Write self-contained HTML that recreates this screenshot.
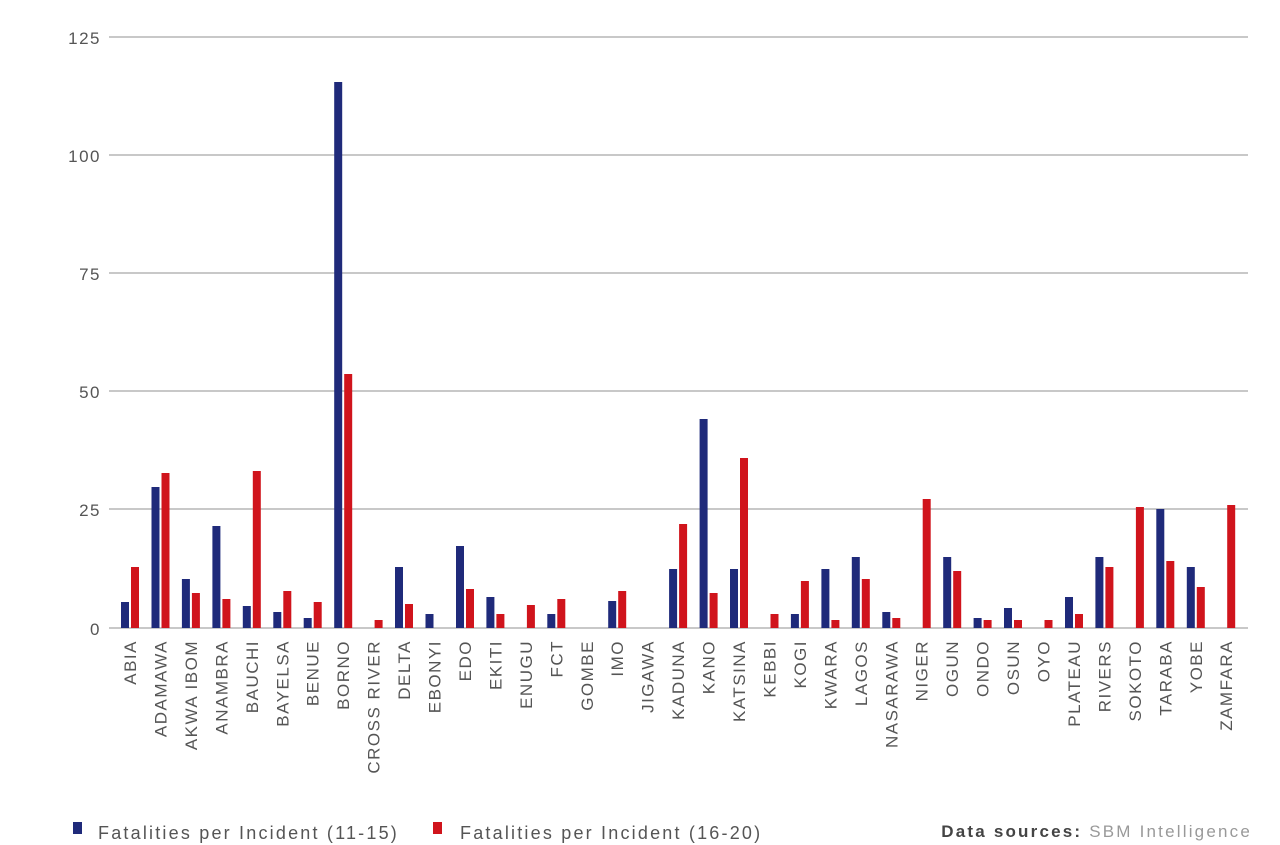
<!DOCTYPE html>
<html><head><meta charset="utf-8"><style>
body{margin:0;background:#fff;}
svg{display:block;font-family:"Liberation Sans",sans-serif;}
.t{font-size:17px;fill:#555;letter-spacing:1.5px;}
.l{font-size:17px;fill:#555;letter-spacing:1.5px;}
.g{font-size:18px;fill:#555;letter-spacing:2.2px;}
</style></head><body>
<svg width="1280" height="845" viewBox="0 0 1280 845">
<g stroke="#b5b5b5" stroke-width="1.5">
<line x1="109" y1="37" x2="1248" y2="37"/><line x1="109" y1="155" x2="1248" y2="155"/>
<line x1="109" y1="273" x2="1248" y2="273"/><line x1="109" y1="391" x2="1248" y2="391"/>
<line x1="109" y1="509" x2="1248" y2="509"/><line x1="109" y1="628" x2="1248" y2="628"/>
</g>
<g class="t" text-anchor="end">
<text x="101" y="44">125</text><text x="101" y="162">100</text><text x="101" y="280">75</text>
<text x="101" y="398">50</text><text x="101" y="516">25</text><text x="101" y="635">0</text>
</g>
<g fill="#1f2a7a">
<rect x="121" y="602" width="8" height="26"/>
<rect x="151.5" y="487" width="8" height="141"/>
<rect x="181.9" y="579" width="8" height="49"/>
<rect x="212.4" y="526" width="8" height="102"/>
<rect x="242.8" y="606" width="8" height="22"/>
<rect x="273.3" y="612" width="8" height="16"/>
<rect x="303.7" y="618" width="8" height="10"/>
<rect x="334.2" y="82" width="8" height="546"/>
<rect x="395" y="567" width="8" height="61"/>
<rect x="425.5" y="614" width="8" height="14"/>
<rect x="456" y="546" width="8" height="82"/>
<rect x="486.4" y="597" width="8" height="31"/>
<rect x="547.3" y="614" width="8" height="14"/>
<rect x="608.2" y="601" width="8" height="27"/>
<rect x="669.1" y="569" width="8" height="59"/>
<rect x="699.6" y="419" width="8" height="209"/>
<rect x="730" y="569" width="8" height="59"/>
<rect x="790.9" y="614" width="8" height="14"/>
<rect x="821.4" y="569" width="8" height="59"/>
<rect x="851.8" y="557" width="8" height="71"/>
<rect x="882.3" y="612" width="8" height="16"/>
<rect x="943.2" y="557" width="8" height="71"/>
<rect x="973.6" y="618" width="8" height="10"/>
<rect x="1004" y="608" width="8" height="20"/>
<rect x="1065" y="597" width="8" height="31"/>
<rect x="1095.4" y="557" width="8" height="71"/>
<rect x="1156.3" y="509" width="8" height="119"/>
<rect x="1186.8" y="567" width="8" height="61"/>
</g>
<g fill="#d0141c">
<rect x="131" y="567" width="8" height="61"/>
<rect x="161.5" y="473" width="8" height="155"/>
<rect x="191.9" y="593" width="8" height="35"/>
<rect x="222.4" y="599" width="8" height="29"/>
<rect x="252.8" y="471" width="8" height="157"/>
<rect x="283.3" y="591" width="8" height="37"/>
<rect x="313.7" y="602" width="8" height="26"/>
<rect x="344.2" y="374" width="8" height="254"/>
<rect x="374.6" y="620" width="8" height="8"/>
<rect x="405" y="604" width="8" height="24"/>
<rect x="466" y="589" width="8" height="39"/>
<rect x="496.4" y="614" width="8" height="14"/>
<rect x="526.9" y="605" width="8" height="23"/>
<rect x="557.3" y="599" width="8" height="29"/>
<rect x="618.2" y="591" width="8" height="37"/>
<rect x="679.1" y="524" width="8" height="104"/>
<rect x="709.6" y="593" width="8" height="35"/>
<rect x="740" y="458" width="8" height="170"/>
<rect x="770.5" y="614" width="8" height="14"/>
<rect x="800.9" y="581" width="8" height="47"/>
<rect x="831.4" y="620" width="8" height="8"/>
<rect x="861.8" y="579" width="8" height="49"/>
<rect x="892.3" y="618" width="8" height="10"/>
<rect x="922.7" y="499" width="8" height="129"/>
<rect x="953.2" y="571" width="8" height="57"/>
<rect x="983.6" y="620" width="8" height="8"/>
<rect x="1014" y="620" width="8" height="8"/>
<rect x="1044.5" y="620" width="8" height="8"/>
<rect x="1075" y="614" width="8" height="14"/>
<rect x="1105.4" y="567" width="8" height="61"/>
<rect x="1135.9" y="507" width="8" height="121"/>
<rect x="1166.3" y="561" width="8" height="67"/>
<rect x="1196.8" y="587" width="8" height="41"/>
<rect x="1227.2" y="505" width="8" height="123"/>
</g>
<g class="l" text-anchor="end">
<text transform="translate(136,640) rotate(-90)">ABIA</text>
<text transform="translate(166.5,640) rotate(-90)">ADAMAWA</text>
<text transform="translate(197,640) rotate(-90)">AKWA IBOM</text>
<text transform="translate(227.4,640) rotate(-90)">ANAMBRA</text>
<text transform="translate(257.8,640) rotate(-90)">BAUCHI</text>
<text transform="translate(288.3,640) rotate(-90)">BAYELSA</text>
<text transform="translate(318.7,640) rotate(-90)">BENUE</text>
<text transform="translate(349.2,640) rotate(-90)">BORNO</text>
<text transform="translate(379.6,640) rotate(-90)">CROSS RIVER</text>
<text transform="translate(410,640) rotate(-90)">DELTA</text>
<text transform="translate(440.5,640) rotate(-90)">EBONYI</text>
<text transform="translate(471,640) rotate(-90)">EDO</text>
<text transform="translate(501.4,640) rotate(-90)">EKITI</text>
<text transform="translate(531.9,640) rotate(-90)">ENUGU</text>
<text transform="translate(562.3,640) rotate(-90)">FCT</text>
<text transform="translate(592.8,640) rotate(-90)">GOMBE</text>
<text transform="translate(623.2,640) rotate(-90)">IMO</text>
<text transform="translate(653.7,640) rotate(-90)">JIGAWA</text>
<text transform="translate(684.1,640) rotate(-90)">KADUNA</text>
<text transform="translate(714.6,640) rotate(-90)">KANO</text>
<text transform="translate(745,640) rotate(-90)">KATSINA</text>
<text transform="translate(775.5,640) rotate(-90)">KEBBI</text>
<text transform="translate(805.9,640) rotate(-90)">KOGI</text>
<text transform="translate(836.4,640) rotate(-90)">KWARA</text>
<text transform="translate(866.8,640) rotate(-90)">LAGOS</text>
<text transform="translate(897.3,640) rotate(-90)">NASARAWA</text>
<text transform="translate(927.7,640) rotate(-90)">NIGER</text>
<text transform="translate(958.2,640) rotate(-90)">OGUN</text>
<text transform="translate(988.6,640) rotate(-90)">ONDO</text>
<text transform="translate(1019,640) rotate(-90)">OSUN</text>
<text transform="translate(1049.5,640) rotate(-90)">OYO</text>
<text transform="translate(1080,640) rotate(-90)">PLATEAU</text>
<text transform="translate(1110.4,640) rotate(-90)">RIVERS</text>
<text transform="translate(1140.9,640) rotate(-90)">SOKOTO</text>
<text transform="translate(1171.3,640) rotate(-90)">TARABA</text>
<text transform="translate(1201.8,640) rotate(-90)">YOBE</text>
<text transform="translate(1232.2,640) rotate(-90)">ZAMFARA</text>
</g>
<rect x="73" y="822" width="9" height="12" fill="#1f2a7a"/>
<text x="98" y="839" class="g">Fatalities per Incident (11-15)</text>
<rect x="433" y="822" width="9" height="12" fill="#d0141c"/>
<text x="460" y="839" class="g">Fatalities per Incident (16-20)</text>
<text x="1252" y="837" text-anchor="end" font-size="17" letter-spacing="2.2" fill="#999"><tspan fill="#444" font-weight="bold">Data sources:</tspan> SBM Intelligence</text>
</svg>
</body></html>
